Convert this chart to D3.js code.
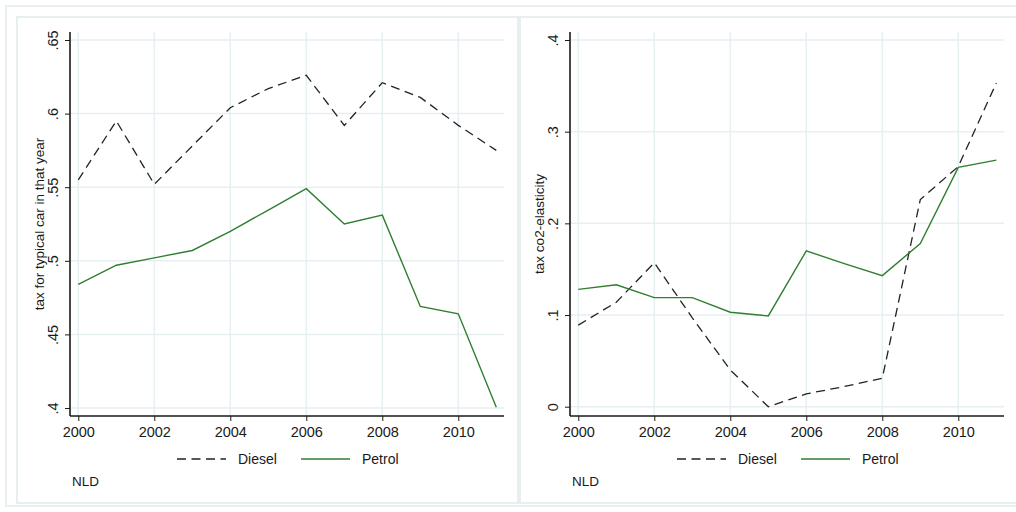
<!DOCTYPE html>
<html>
<head>
<meta charset="utf-8">
<script src="https://d3js.org/d3.v7.min.js"></script>
<style>
  body { margin: 0; background: #fff; }
  svg { display: block; font-family: "Liberation Sans", Arial, sans-serif; }
  .grid line { stroke: #e6eff1; stroke-width: 1.5; }
  .axis path, .axis line { stroke: #1a1a1a; }
  .axis text { fill: #1a1a1a; font-size: 14.5px; }
</style>
</head>
<body>
<svg id="chart" width="1016" height="512"></svg>
<script>
// ---------------- data ----------------
var years = [2000, 2001, 2002, 2003, 2004, 2005, 2006, 2007, 2008, 2009, 2010, 2011];
var xTicks = [2000, 2002, 2004, 2006, 2008, 2010];

// left panel: tax for typical car in that year
var taxDiesel = [0.555, 0.595, 0.552, 0.578, 0.604, 0.617, 0.626, 0.592, 0.621, 0.611, 0.592, 0.575];
var taxPetrol = [0.484, 0.497, 0.502, 0.507, 0.520, 0.5345, 0.549, 0.525, 0.531, 0.469, 0.464, 0.4005];
var taxTicks = [0.4, 0.45, 0.5, 0.55, 0.6, 0.65];

// right panel: tax co2-elasticity
var elaDiesel = [0.089, 0.114, 0.157, 0.097, 0.040, 0.000, 0.014, 0.022, 0.031, 0.226, 0.262, 0.353];
var elaPetrol = [0.128, 0.133, 0.119, 0.119, 0.103, 0.099, 0.170, 0.156, 0.143, 0.178, 0.261, 0.269];
var elaTicks = [0, 0.1, 0.2, 0.3, 0.4];

var seriesNames = ["Diesel", "Petrol"];
var green = "#2f7f31";

var svg = d3.select("#chart");

// frames
svg.append("rect").attr("x", 6).attr("y", 6).attr("width", 1030).attr("height", 500)
  .attr("fill", "none").attr("stroke", "#e8eff1").attr("stroke-width", 2);
svg.append("rect").attr("x", 17).attr("y", 17).attr("width", 501).attr("height", 486)
  .attr("fill", "none").attr("stroke", "#e8eff1").attr("stroke-width", 2);
svg.append("rect").attr("x", 520).attr("y", 17).attr("width", 520).attr("height", 486)
  .attr("fill", "none").attr("stroke", "#e8eff1").attr("stroke-width", 2);

function fmt(v) {
  // stata style: .65, .5, 0
  if (v === 0) return "0";
  return d3.format("")(+v.toFixed(2)).replace(/^0/, "");
}

function drawPanel(offsetX, title, diesel, petrol, ticks, yDomain, yRange) {
  var g = svg.append("g").attr("transform", "translate(" + offsetX + ",0)");
  var axisX = 70, axisY = 416, right = 504, top = 32;

  var x = d3.scaleLinear().domain([2000, 2010]).range([78.3, 458.3]);
  var y = d3.scaleLinear().domain(yDomain).range(yRange);

  // grid
  var grid = g.append("g").attr("class", "grid");
  grid.selectAll(".gx").data(xTicks).enter().append("line")
    .attr("x1", d => x(d)).attr("x2", d => x(d))
    .attr("y1", top).attr("y2", axisY);
  grid.selectAll(".gy").data(ticks).enter().append("line")
    .attr("x1", axisX).attr("x2", right)
    .attr("y1", d => y(d)).attr("y2", d => y(d));

  // axes
  var xAxis = g.append("g").attr("class", "axis")
    .attr("transform", "translate(0," + axisY + ")")
    .call(d3.axisBottom(x).tickValues(xTicks).tickFormat(d3.format("d"))
      .tickSize(5).tickSizeOuter(0).tickPadding(6));
  xAxis.select(".domain").attr("d", "M" + axisX + ",0H" + right).attr("stroke-width", 1.6);
  xAxis.selectAll("text").attr("dy", "0.71em");

  var yAxis = g.append("g").attr("class", "axis")
    .attr("transform", "translate(" + axisX + ",0)")
    .call(d3.axisLeft(y).tickValues(ticks).tickFormat(fmt).tickSize(5).tickSizeOuter(0));
  yAxis.select(".domain").attr("d", "M0," + top + "V" + axisY).attr("stroke-width", 1.6);
  yAxis.selectAll(".tick text")
    .attr("x", null).attr("dy", null)
    .attr("text-anchor", "middle")
    .attr("transform", "translate(-12,0) rotate(-90)");

  // axis title
  g.append("text")
    .attr("transform", "translate(44," + ((top + axisY) / 2) + ") rotate(-90)")
    .attr("text-anchor", "middle")
    .attr("font-size", "13.5px")
    .attr("fill", "#1a1a1a")
    .text(title);

  // lines
  var line = d3.line().x((d, i) => x(years[i])).y(d => y(d));
  g.append("path").datum(diesel)
    .attr("d", line).attr("fill", "none")
    .attr("stroke", "#222").attr("stroke-width", 1.3)
    .attr("stroke-dasharray", "9,5.5");
  g.append("path").datum(petrol)
    .attr("d", line).attr("fill", "none")
    .attr("stroke", green).attr("stroke-width", 1.4);

  // legend
  var leg = g.append("g");
  leg.append("line").attr("x1", 177).attr("x2", 226).attr("y1", 459).attr("y2", 459)
    .attr("stroke", "#222").attr("stroke-width", 1.4).attr("stroke-dasharray", "9,5.5");
  leg.append("text").attr("x", 238).attr("y", 464).attr("font-size", "14px").attr("fill", "#1a1a1a")
    .text(seriesNames[0]);
  leg.append("line").attr("x1", 301).attr("x2", 350).attr("y1", 459).attr("y2", 459)
    .attr("stroke", green).attr("stroke-width", 1.4);
  leg.append("text").attr("x", 362).attr("y", 464).attr("font-size", "14px").attr("fill", "#1a1a1a")
    .text(seriesNames[1]);

  g.append("text").attr("x", 72).attr("y", 486).attr("font-size", "13.5px").attr("fill", "#1a1a1a")
    .text("NLD");
}

drawPanel(0, "tax for typical car in that year", taxDiesel, taxPetrol, taxTicks, [0.4, 0.65], [408, 40]);
drawPanel(500, "tax co2-elasticity", elaDiesel, elaPetrol, elaTicks, [0, 0.4], [406.7, 40]);
</script>
</body>
</html>
